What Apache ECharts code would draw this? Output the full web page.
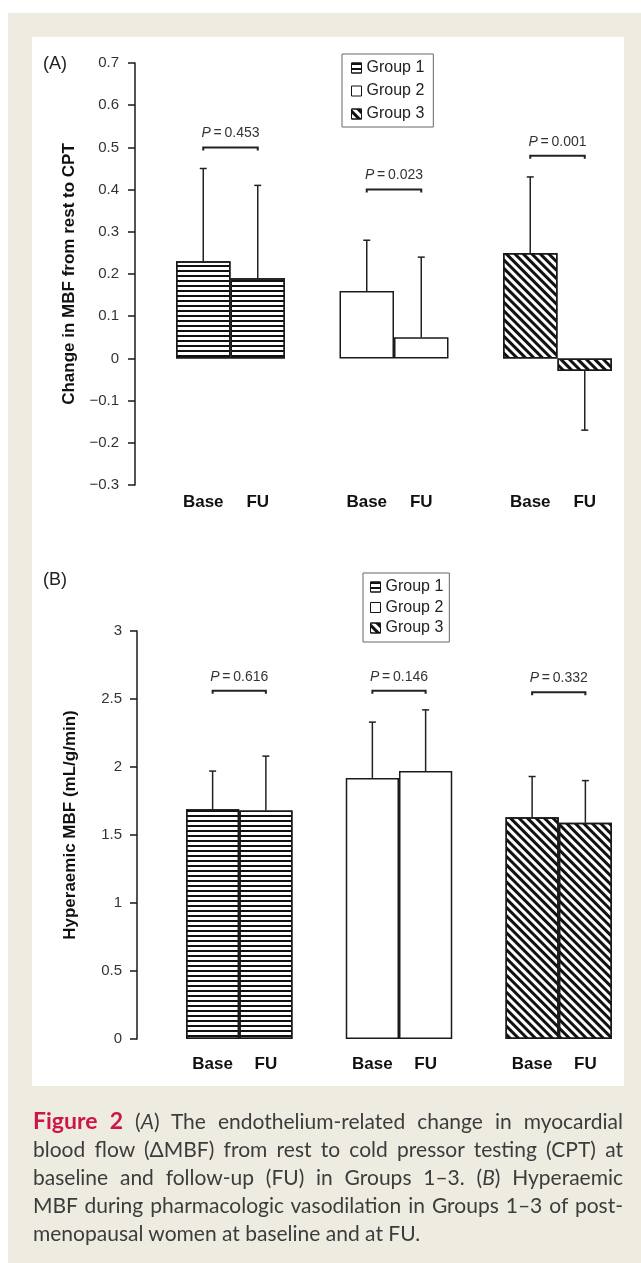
<!DOCTYPE html>
<html>
<head>
<meta charset="utf-8">
<script src="https://cdn.jsdelivr.net/npm/echarts@6/dist/echarts.min.js"></script>
<style>
  html, body { margin:0; padding:0; background:#fff; width:641px; height:1263px; overflow:hidden; }
  #beige { position:absolute; left:8px; top:13px; width:633px; height:1250px; background:#EEEBE0; }
  #panel { position:absolute; left:32px; top:37px; width:592px; height:1049px; background:#fff; }
  #chart { position:absolute; left:0; top:0; width:641px; height:1263px; }
  #caption { position:absolute; left:33px; top:1106px; width:590px; font-family:Lato, 'Open Sans', sans-serif; font-size:21px; line-height:28px; color:#3c3c3c; }
  #caption div { text-align:justify; text-align-last:justify; white-space:nowrap; }
  #caption div.last { text-align-last:left; }
  #caption .fig { color:#CC1744; font-weight:bold; font-size:23px; }
</style>
</head>
<body>
<div id="beige"></div>
<div id="panel"></div>
<div id="chart"></div>
<div id="caption">
  <div><span class="fig">Figure 2</span> (<i>A</i>) The endothelium-related change in myocardial</div>
  <div>blood flow (ΔMBF) from rest to cold pressor testing (CPT) at</div>
  <div>baseline and follow-up (FU) in Groups 1–3. (<i>B</i>) Hyperaemic</div>
  <div>MBF during pharmacologic vasodilation in Groups 1–3 of post-</div>
  <div class="last">menopausal women at baseline and at FU.</div>
</div>
<script>
// ---------- data ----------
const categories = ['Base', 'FU', '', 'Base', 'FU', '', 'Base', 'FU'];
const groupNames = ['Group 1', 'Group 2', 'Group 3'];

// Panel A: change in MBF from rest to CPT
const cptBase   = [0.23, 0.16, 0.25];
const cptFU     = [0.19, 0.05, -0.03];
const cptBaseSD = [0.22, 0.12, 0.18];
const cptFUSD   = [0.22, 0.19, 0.14];
const cptP      = ['0.453', '0.023', '0.001'];
const cptBracket = [0.50, 0.40, 0.48];
const cptTicks = { min: -0.3, max: 0.7, interval: 0.1 };

// Panel B: hyperaemic MBF (mL/g/min)
const hypBase   = [1.69, 1.92, 1.63];
const hypFU     = [1.68, 1.97, 1.59];
const hypBaseSD = [0.28, 0.41, 0.30];
const hypFUSD   = [0.40, 0.45, 0.31];
const hypP      = ['0.616', '0.146', '0.332'];
const hypBracket = [2.56, 2.56, 2.55];
const hypTicks = { min: 0, max: 3, interval: 0.5 };

// ---------- styles ----------
const FONT = 'Liberation Sans';
const groupStyles = [
  { color:'#fff', borderColor:'#1a1a1a', borderWidth:1.5,
    decal:{ symbol:'rect', symbolSize:1, dashArrayX:[1,0], dashArrayY:[1.2,3], color:'#111', rotation:0 } },
  { color:'#fff', borderColor:'#1a1a1a', borderWidth:1.5 },
  { color:'#fff', borderColor:'#1a1a1a', borderWidth:1.5,
    decal:{ symbol:'rect', symbolSize:1, dashArrayX:[1,0], dashArrayY:[2.1,2.1], color:'#111', rotation:Math.PI/4 } }
];

function groupData(baseArr, fuArr, g) {
  const d = categories.map(() => '-');
  d[3*g] = baseArr[g];
  d[3*g+1] = fuArr[g];
  return d;
}
function errData(baseArr, fuArr, baseSD, fuSD) {
  const out = [];
  for (let g = 0; g < 3; g++) {
    out.push([3*g, baseArr[g], baseArr[g] + (baseArr[g] >= 0 ? baseSD[g] : -baseSD[g])]);
    out.push([3*g+1, fuArr[g], fuArr[g] + (fuArr[g] >= 0 ? fuSD[g] : -fuSD[g])]);
  }
  return out;
}
function bracketData(br) {
  return br.map((y, g) => [3*g, 3*g+1, y]);
}

function errorRender(params, api) {
  const p0 = api.coord([api.value(0), api.value(1)]);
  const p1 = api.coord([api.value(0), api.value(2)]);
  const c = { stroke:'#222', lineWidth:1.5 };
  return { type:'group', children:[
    { type:'line', shape:{ x1:p0[0], y1:p0[1], x2:p1[0], y2:p1[1] }, style:c },
    { type:'line', shape:{ x1:p1[0]-3.5, y1:p1[1], x2:p1[0]+3.5, y2:p1[1] }, style:c }
  ]};
}
function makeBracketRender(pTexts) {
  return function (params, api) {
    const a = api.coord([api.value(0), api.value(2)]);
    const b = api.coord([api.value(1), api.value(2)]);
    const y = a[1];
    return { type:'group', children:[
      { type:'polyline', shape:{ points:[[a[0], y+3], [a[0], y], [b[0], y], [b[0], y+3]] },
        style:{ stroke:'#222', lineWidth:2, fill:null } },
      { type:'text', x:(a[0]+b[0])/2, y:y-7,
        style:{ text:'{i|P}\u2009=\u2009' + pTexts[params.dataIndex], fontFamily:FONT, fontSize:14, fill:'#333',
          align:'center', verticalAlign:'bottom',
          rich:{ i:{ fontStyle:'italic', fontFamily:FONT, fontSize:14, fill:'#333' } } } }
    ]};
  };
}

function fmtA(v) {
  if (Math.abs(v) < 1e-9) return '0';
  return (v < 0 ? '\u2212' : '') + Math.abs(v).toFixed(1);
}

const series = [];
groupNames.forEach((n, g) => {
  series.push({ type:'bar', name:n, xAxisIndex:0, yAxisIndex:0, barGap:'-100%', barWidth:'100%',
    data:groupData(cptBase, cptFU, g), itemStyle:groupStyles[g], silent:true });
});
groupNames.forEach((n, g) => {
  series.push({ type:'bar', name:n, xAxisIndex:1, yAxisIndex:1, barGap:'-100%', barWidth:'100%',
    data:groupData(hypBase, hypFU, g), itemStyle:groupStyles[g], silent:true });
});
series.push({ type:'custom', xAxisIndex:0, yAxisIndex:0, renderItem:errorRender, data:errData(cptBase, cptFU, cptBaseSD, cptFUSD), silent:true, z:5 });
series.push({ type:'custom', xAxisIndex:1, yAxisIndex:1, renderItem:errorRender, data:errData(hypBase, hypFU, hypBaseSD, hypFUSD), silent:true, z:5 });
series.push({ type:'custom', xAxisIndex:0, yAxisIndex:0, renderItem:makeBracketRender(cptP), data:bracketData(cptBracket), silent:true, z:5 });
series.push({ type:'custom', xAxisIndex:1, yAxisIndex:1, renderItem:makeBracketRender(hypP), data:bracketData(hypBracket), silent:true, z:5 });

function xAxis(gridIndex, margin) {
  return { type:'category', gridIndex, data:categories,
    axisLine:{ show:false, onZero:false }, axisTick:{ show:false },
    axisLabel:{ interval:0, margin, fontFamily:FONT, fontWeight:'bold', fontSize:17, color:'#111' } };
}
function yAxis(gridIndex, ticks, name, offset, nameGap, labelMargin, formatter, namePadding) {
  return { type:'value', gridIndex, min:ticks.min, max:ticks.max, interval:ticks.interval, offset,
    name, nameLocation:'middle', nameGap, nameRotate:90,
    nameTextStyle:{ fontFamily:FONT, fontWeight:'bold', fontSize:17, color:'#111', padding:namePadding },
    axisLine:{ show:true, lineStyle:{ color:'#1a1a1a', width:1.5 } },
    axisTick:{ show:true, length:7, lineStyle:{ color:'#1a1a1a', width:1.5 } },
    splitLine:{ show:false },
    axisLabel:{ margin:labelMargin, fontFamily:FONT, fontSize:15, color:'#333', formatter } };
}

const legendCommon = {
  orient:'vertical', icon:'rect', itemWidth:10, itemHeight:10,
  borderColor:'#666', borderWidth:1, backgroundColor:'#fff',
  textStyle:{ fontFamily:FONT, fontSize:16, color:'#222', lineHeight:18 },
  itemStyle:{ borderColor:'#111', borderWidth:1 },
  selectedMode:false, data:groupNames
};

const option = {
  animation:false,
  grid:[
    { left:176, width:436, top:63, height:422 },
    { left:186, width:426, top:631, height:408 }
  ],
  xAxis:[ xAxis(0, 9), xAxis(1, 17) ],
  yAxis:[
    yAxis(0, cptTicks, 'Change in MBF from rest to CPT', 41, 57, 16, fmtA, [0,0,0,0]),
    yAxis(1, hypTicks, 'Hyperaemic MBF (mL/g/min)', 49, 58, 15, null, [0,0,0,20])
  ],
  legend:[
    Object.assign({}, legendCommon, { left:342, top:54, itemGap:5, padding:[5,9,4,9] }),
    Object.assign({}, legendCommon, { left:363, top:573, itemGap:2.5, padding:[5,6,5,7] })
  ],
  graphic:[
    { type:'text', left:43, top:55, style:{ text:'(A)', fontFamily:FONT, fontSize:18, fill:'#222' } },
    { type:'text', left:43, top:571, style:{ text:'(B)', fontFamily:FONT, fontSize:18, fill:'#222' } }
  ],
  series
};

const chart = echarts.init(document.getElementById('chart'), null, { renderer:'canvas' });
chart.setOption(option);
</script>
</body>
</html>
